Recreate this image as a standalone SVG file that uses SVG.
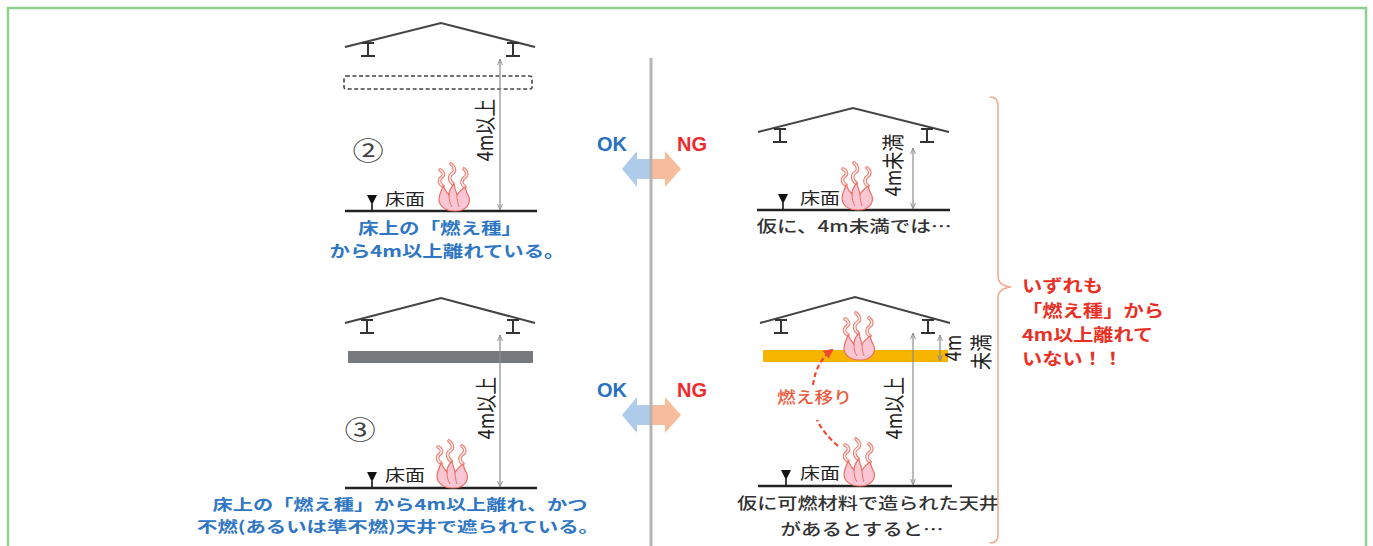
<svg xmlns="http://www.w3.org/2000/svg" width="1373" height="546" viewBox="0 0 1373 546">
  <defs>
    <style>
      .frame{fill:none;stroke:#8fd08f;stroke-width:2.5}
      .roof{fill:none;stroke:#444;stroke-width:2;stroke-linejoin:miter}
      .beam{fill:none;stroke:#333;stroke-width:2}
      .floor{stroke:#222;stroke-width:2.5}
      .dim{stroke:#8c8c8c;stroke-width:1.2;fill:none}
      .mark{fill:#111}
      .jp{font-family:"Noto Sans CJK JP","Noto Sans",sans-serif}
      .blue{fill:#2f76c4;font-weight:700;font-size:16px}
      .blue-s{fill:#2f76c4;font-weight:700;font-size:15px}
      .red{fill:#ea2f25;font-weight:700;font-size:16.5px}
      .gray{fill:#333;font-weight:500;font-size:16px}
      .lbl{fill:#222;font-size:16px}
      .vert{fill:#222;font-size:18px}
      .circ{fill:#444;font-size:25px}
      .ok{fill:#2a70c2;font-weight:700;font-size:20px;font-family:"Liberation Sans",Arial,sans-serif}
      .ng{fill:#ee2a2a;font-weight:700;font-size:20px;font-family:"Liberation Sans",Arial,sans-serif}
      .fl-body{fill:#f9c6d6;stroke:#ef7060;stroke-width:1.2}
      .fl-in{fill:none;stroke:#ef7060;stroke-width:1}
      .wisp-o{fill:none;stroke:#f07a6a;stroke-width:3.6;stroke-linecap:round}
      .wisp-i{fill:none;stroke:#fff0f3;stroke-width:1.5;stroke-linecap:round}
    </style>
    <marker id="dimhead" viewBox="0 0 10 10" refX="10" refY="5" markerWidth="6" markerHeight="6" orient="auto-start-reverse" markerUnits="userSpaceOnUse">
      <path d="M0,1 L10,5 L0,9" fill="none" stroke="#8c8c8c" stroke-width="1.6"/>
    </marker>
    <marker id="spreadhead" viewBox="0 0 10 10" refX="8" refY="5" markerWidth="10" markerHeight="10" orient="auto" markerUnits="userSpaceOnUse">
      <path d="M0,0 L10,5 L0,10 Z" fill="#f04a30"/>
    </marker>
    <!-- flame symbol, origin at bottom centre -->
    <g id="flame">
      <path class="wisp-o" d="M-12,-25 C-17,-28 -16,-32 -13,-34 C-10,-36 -12,-40 -15,-41"/>
      <path class="wisp-i" d="M-12,-25 C-17,-28 -16,-32 -13,-34 C-10,-36 -12,-40 -15,-41"/>
      <path class="wisp-o" d="M-2,-27 C-7,-31 -6,-36 -2,-38 C1,-40 -1,-45 -4,-47"/>
      <path class="wisp-i" d="M-2,-27 C-7,-31 -6,-36 -2,-38 C1,-40 -1,-45 -4,-47"/>
      <path class="wisp-o" d="M10,-24 C5,-28 7,-32 10,-34 C13,-36 12,-40 9,-42"/>
      <path class="wisp-i" d="M10,-24 C5,-28 7,-32 10,-34 C13,-36 12,-40 9,-42"/>
      <path class="fl-body" d="M0,0 C-10,0 -16,-5 -16,-12 C-16,-17 -13,-21 -12,-25 C-10,-21 -8,-18 -6,-16 C-6,-20 -4,-24 -1,-27 C0,-22 1,-19 2,-16 C4,-19 7,-22 10,-24 C11,-20 12,-17 14,-14 C16,-7 11,0 0,0 Z"/>
      <path class="fl-in" d="M-6,-16 C-6,-11 -5,-7 -3,-4 M2,-16 C2,-11 3,-7 4,-4"/>
    </g>
    <!-- ceiling beam, origin at centre of top flange -->
    <path id="ibeam" class="beam" d="M-6,0 H6 M0,0 V13 M-7,13 H7"/>
    <!-- floor level mark -->
    <path id="level" class="mark" d="M-5,-15 H5 L0,-5 Z M-0.8,-6 H0.8 V0 H-0.8 Z"/>
  </defs>

  <rect class="frame" x="8" y="8" width="1358" height="570"/>

  <!-- case 2: ceiling void, 4 m or more -->
  <g id="case2-ok">
    <polyline class="roof" points="345,47 441,23 535,47"/>
    <use href="#ibeam" x="368" y="43"/>
    <use href="#ibeam" x="513" y="43"/>
    <rect x="344" y="76" width="188" height="13" rx="2" fill="#fff" stroke="#444" stroke-width="1.6" stroke-dasharray="4 2.5"/>
    <line class="floor" x1="345" y1="211" x2="537" y2="211"/>
    <use href="#level" x="372" y="210"/>
    <text class="jp lbl" x="385" y="205" textLength="40" lengthAdjust="spacingAndGlyphs">床面</text>
    <use href="#flame" x="455" y="211"/>
    <text class="jp circ" text-anchor="middle" dominant-baseline="central" transform="translate(368,149) scale(1.25,1)">②</text>
    <text class="jp vert" text-anchor="middle" dominant-baseline="central" transform="translate(484,130) scale(1.2,1) rotate(-90)">4m以上</text>
    <text class="jp blue" x="440" y="234" text-anchor="middle" textLength="164" lengthAdjust="spacingAndGlyphs">床上の「燃え種」</text>
    <text class="jp blue" x="447" y="257" text-anchor="middle" textLength="235" lengthAdjust="spacingAndGlyphs">から4m以上離れている。</text>
  </g>

  <!-- case 2: less than 4 m -->
  <g id="case2-ng">
    <polyline class="roof" points="758,132 853,108 949,132"/>
    <use href="#ibeam" x="780" y="129"/>
    <use href="#ibeam" x="927" y="129"/>
    <line class="floor" x1="757" y1="210" x2="950" y2="210"/>
    <use href="#level" x="783" y="209"/>
    <text class="jp lbl" x="800" y="204" textLength="40" lengthAdjust="spacingAndGlyphs">床面</text>
    <use href="#flame" x="858" y="210"/>
    <text class="jp vert" text-anchor="middle" dominant-baseline="central" transform="translate(892,165) scale(1.2,1) rotate(-90)">4m未満</text>
    <text class="jp gray" x="854" y="232" text-anchor="middle" textLength="195" lengthAdjust="spacingAndGlyphs">仮に、4m未満では…</text>
  </g>

  <!-- case 3: non-combustible ceiling -->
  <g id="case3-ok">
    <polyline class="roof" points="345,323 441,298 535,323"/>
    <use href="#ibeam" x="367" y="320"/>
    <use href="#ibeam" x="513" y="320"/>
    <rect x="348" y="351" width="185" height="12" fill="#76797d"/>
    <line class="floor" x1="345" y1="488" x2="537" y2="488"/>
    <use href="#level" x="372" y="487"/>
    <text class="jp lbl" x="385" y="481" textLength="40" lengthAdjust="spacingAndGlyphs">床面</text>
    <use href="#flame" x="453" y="488"/>
    <text class="jp circ" text-anchor="middle" dominant-baseline="central" transform="translate(360,428) scale(1.25,1)">③</text>
    <text class="jp vert" text-anchor="middle" dominant-baseline="central" transform="translate(485,408) scale(1.2,1) rotate(-90)">4m以上</text>
    <text class="jp blue-s" x="400" y="510" text-anchor="middle" textLength="375" lengthAdjust="spacingAndGlyphs">床上の「燃え種」から4m以上離れ、かつ</text>
    <text class="jp blue-s" x="398" y="532" text-anchor="middle" textLength="402" lengthAdjust="spacingAndGlyphs">不燃(あるいは準不燃)天井で遮られている。</text>
  </g>

  <!-- case 3: combustible ceiling -->
  <g id="case3-ng">
    <polyline class="roof" points="760,323 855,297 950,323"/>
    <use href="#ibeam" x="781" y="320"/>
    <use href="#ibeam" x="928" y="320"/>
    <rect x="763" y="350" width="185" height="12" fill="#f7b500"/>
    <use href="#flame" x="860" y="360"/>
    <line class="floor" x1="758" y1="486" x2="952" y2="486"/>
    <use href="#level" x="786" y="485"/>
    <text class="jp lbl" x="800" y="479" textLength="40" lengthAdjust="spacingAndGlyphs">床面</text>
    <use href="#flame" x="860" y="486"/>
    <text class="jp" x="777" y="403" fill="#f05a3c" font-size="16" font-weight="500" textLength="75" lengthAdjust="spacingAndGlyphs">燃え移り</text>
    <text class="jp vert" text-anchor="middle" dominant-baseline="central" transform="translate(893,408) scale(1.2,1) rotate(-90)">4m以上</text>
    <text class="jp vert" text-anchor="middle" dominant-baseline="central" transform="translate(952,348) scale(1.2,1) rotate(-90)">4m</text>
    <text class="jp vert" text-anchor="middle" dominant-baseline="central" transform="translate(980,352) scale(1.2,1) rotate(-90)">未満</text>
    <text class="jp gray" x="868" y="509" text-anchor="middle" textLength="262" lengthAdjust="spacingAndGlyphs">仮に可燃材料で造られた天井</text>
    <text class="jp gray" x="862" y="535" text-anchor="middle" textLength="163" lengthAdjust="spacingAndGlyphs">があるとすると…</text>
  </g>

  <!-- summary note -->
  <g id="note">
    <path d="M990,97 C995,97 998,100 998,106 L998,276 C998,282 1002,286 1011,287 C1002,288 998,292 998,298 L998,535 C998,540 995,543 990,543" fill="none" stroke="#f4a88f" stroke-width="1.5"/>
    <text class="jp red" x="1022" y="292" textLength="81" lengthAdjust="spacingAndGlyphs">いずれも</text>
    <text class="jp red" x="1022" y="317" textLength="142" lengthAdjust="spacingAndGlyphs">「燃え種」から</text>
    <text class="jp red" x="1022" y="341" textLength="131" lengthAdjust="spacingAndGlyphs">4m以上離れて</text>
    <text class="jp red" x="1022" y="365" textLength="101" lengthAdjust="spacingAndGlyphs">いない！！</text>
  </g>

  <!-- OK / NG markers -->
  <g id="verdict-2">
    <text class="ok" x="612" y="151" text-anchor="middle">OK</text>
    <text class="ng" x="692" y="151" text-anchor="middle">NG</text>
  </g>
  <g id="verdict-3">
    <text class="ok" x="612" y="397" text-anchor="middle">OK</text>
    <text class="ng" x="692" y="397" text-anchor="middle">NG</text>
  </g>

  <g id="connectors">
    <!-- OK/NG double arrows -->
    <path d="M622,169 L637,151 L637,159 L651,159 L651,179 L637,179 L637,187 Z" fill="#aecbe9"/>
    <path d="M681,169 L665,151 L665,159 L651,159 L651,179 L665,179 L665,187 Z" fill="#f7bc9c"/>
    <path d="M622,415 L637,397 L637,405 L651,405 L651,425 L637,425 L637,433 Z" fill="#aecbe9"/>
    <path d="M681,415 L665,397 L665,405 L651,405 L651,425 L665,425 L665,433 Z" fill="#f7bc9c"/>
    <!-- divider -->
    <line x1="651" y1="58" x2="651" y2="546" stroke="#b4b4b4" stroke-width="3"/>
    <!-- dimension lines -->
    <line class="dim" x1="500" y1="210" x2="500" y2="59" marker-start="url(#dimhead)" marker-end="url(#dimhead)"/>
    <line class="dim" x1="913" y1="209" x2="913" y2="148" marker-start="url(#dimhead)" marker-end="url(#dimhead)"/>
    <line class="dim" x1="500" y1="487" x2="500" y2="335" marker-start="url(#dimhead)" marker-end="url(#dimhead)"/>
    <line class="dim" x1="913" y1="485" x2="913" y2="333" marker-start="url(#dimhead)" marker-end="url(#dimhead)"/>
    <line class="dim" x1="940" y1="361" x2="940" y2="335" marker-start="url(#dimhead)" marker-end="url(#dimhead)"/>
    <!-- fire spread -->
    <path d="M838,446 Q824,434 817,420" fill="none" stroke="#f04a30" stroke-width="2.2" stroke-dasharray="5 3"/>
    <path d="M813,385 Q816,362 832,350" fill="none" stroke="#f04a30" stroke-width="2.2" stroke-dasharray="5 3" marker-end="url(#spreadhead)"/>
  </g>
</svg>
